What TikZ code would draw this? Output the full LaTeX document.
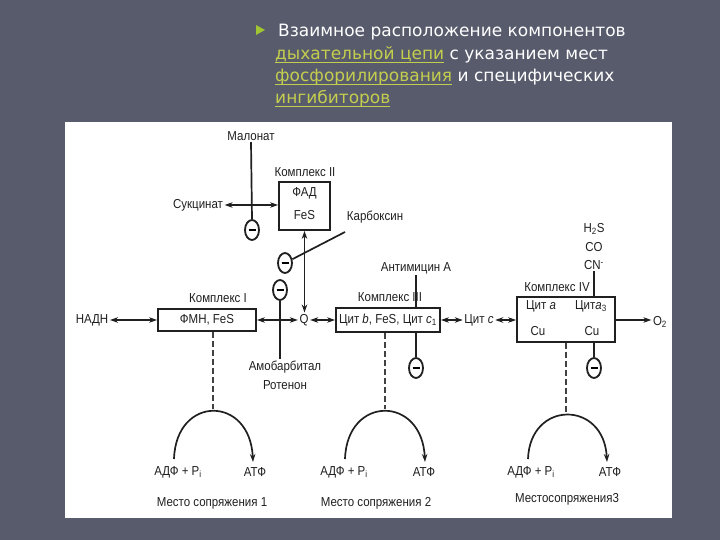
\documentclass[tikz,border=0pt]{standalone}
\usepackage{fontspec}
\setmainfont{Liberation Sans}
\newfontfamily\titlefont{DejaVu Sans}
\newfontfamily\diafont[FakeStretch=0.885]{Liberation Sans}
\usetikzlibrary{arrows.meta,shapes.geometric}
\definecolor{slidebg}{RGB}{88,91,108}
\definecolor{ulink}{RGB}{196,206,78}
\definecolor{tri}{RGB}{160,196,50}
\definecolor{ink}{RGB}{32,32,32}
\newcommand{\myul}[1]{\setbox0\hbox{#1}\rlap{\rule[-3pt]{\wd0}{1pt}}\box0}
\tikzset{
  lbl/.style={font=\diafont\fontsize{13}{14}\selectfont, text=ink, inner sep=1.5pt},
  cbox/.style={draw=ink, line width=1.8pt, fill=white, inner sep=0pt},
  con/.style={draw=ink, line width=1.7pt},
  dbl/.style={con, {Stealth[length=8pt,width=5.5pt]}-{Stealth[length=8pt,width=5.5pt]}},
  sgl/.style={con, -{Stealth[length=8pt,width=5.5pt]}},
  inh/.style={ellipse, draw=ink, line width=1.8pt, fill=white, minimum width=14pt, minimum height=20pt, inner sep=0pt},
  dsh/.style={draw=ink!85, line width=1.6pt, dash pattern=on 6pt off 3pt},
  ttl/.style={font=\titlefont\fontsize{17}{18}\selectfont, text=white, anchor=base west, inner sep=0pt}
}
\begin{document}
\begin{tikzpicture}[x=1pt,y=-1pt]
\fill[slidebg] (0,0) rectangle (720,540);
\useasboundingbox (0,0) rectangle (720,540);
\fill[white] (65,122) rectangle (672,518);
% title
\fill[tri] (256,25) -- (265,30) -- (256,35) -- cycle;
\node[ttl] (t1) at (278,37) {Взаимное расположение компонентов};
\node[ttl] (t2) at (275,60) {\textcolor{ulink}{\myul{дыхательной цепи}} с указанием мест};
\node[ttl] (t3) at (275,82) {\textcolor{ulink}{\myul{фосфорилирования}} и специфических};
\node[ttl] (t4) at (275,104) {\textcolor{ulink}{\myul{ингибиторов}}};
% Complex I
\node[lbl] (nadh) at (92,320) {НАДН};
\node[cbox, lbl, draw=ink, minimum width=98pt, minimum height=22pt] (c1) at (207,320) {ФМН, FeS};
\node[lbl] (c1l) at (218,298) {Комплекс I};
\node[lbl] (q) at (304,320) {Q};
% Complex II
\node[cbox, minimum width=51pt, minimum height=48pt] (c2) at (304.5,206) {};
\node[lbl] (fad) at (304.5,193) {ФАД};
\node[lbl] (fes2) at (304.5,215) {FeS};
\node[lbl] (c2l) at (305,172) {Комплекс II};
\node[lbl] (succ) at (198,205) {Сукцинат};
\node[lbl] (malon) at (251,136) {Малонат};
\node[inh] (i1) at (252,230) {\rule{7pt}{1.8pt}};
\node[lbl] (carb) at (375,217) {Карбоксин};
\coordinate (cb) at (345,232);
\node[inh] (i2) at (285,263) {\rule{7pt}{1.8pt}};
\node[inh] (i3) at (280,290) {\rule{7pt}{1.8pt}};
\node[lbl] (amo) at (285,367) {Амобарбитал};
\node[lbl] (rot) at (285,385) {Ротенон};
% Complex III
\node[cbox, lbl, draw=ink, minimum width=104pt, minimum height=24pt] (c3) at (388,320) {Цит \textit{b}, FeS,\ Цит \textit{c}\textsubscript{1}};
\node[lbl] (c3l) at (390,297) {Комплекс III};
\node[lbl] (anti) at (416,268) {Антимицин А};
\node[inh] (i4) at (416,368) {\rule{7pt}{1.8pt}};
\node[lbl] (cytc) at (479,320) {Цит \textit{c}};
% Complex IV
\node[cbox, minimum width=98pt, minimum height=45pt] (c4) at (566,319.5) {};
\node[lbl] (cya) at (541,306) {Цит \textit{a}};
\node[lbl] (cya3) at (591,306) {Цит\textit{a}\textsubscript{3}};
\node[lbl] (cu1) at (538,331) {Cu};
\node[lbl] (cu2) at (592,331) {Cu};
\node[lbl] (c4l) at (557,287) {Комплекс IV};
\node[lbl] (h2s) at (594,229) {H\textsubscript{2}S};
\node[lbl] (co) at (594,247) {CO};
\node[lbl] (cn) at (594,265) {CN\textsuperscript{-}};
\node[inh] (i5) at (594,368) {\rule{7pt}{1.8pt}};
\node[lbl] (o2) at (660,322) {O\textsubscript{2}};
% connectors
\draw[dbl] (nadh) -- (c1);
\draw[dbl] (c1) -- (q);
\draw[dbl] (q) -- (c3);
\draw[dbl] (c3) -- (cytc);
\draw[dbl] (cytc) -- (c4.west |- cytc);
\draw[sgl] (c4.east |- cytc) -- (o2.west |- cytc);
\draw[dbl] (succ) -- (c2.west |- succ);
\draw[con] (malon.south) -- (i1.north);
\draw[dbl] (c2.south) -- (c2.south |- q.north);
\draw[con] (cb) -- (i2);
\draw[con] (i3.south) -- (amo.north -| i3);
\draw[con] (anti.south) -- (c3.north -| anti);
\draw[con] (c3.south -| i4) -- (i4.north);
\draw[con] (cn.south) -- (c4.north -| cn);
\draw[con] (c4.south -| i5) -- (i5.north);
% coupling sites
\coordinate (a1) at (213,409);
\coordinate (a2) at (385,409);
\coordinate (a3) at (566,413);
\draw[dsh] (c1.south -| a1) -- (a1);
\draw[dsh] (c3.south -| a2) -- (a2);
\draw[dsh] (c4.south -| a3) -- (a3);
\node[lbl] (adp1) at (178,472) {АДФ + P\textsubscript{i}};
\node[lbl] (atp1) at (255,472) {АТФ};
\node[lbl] (ms1) at (212,503) {Место сопряжения 1};
\node[lbl] (adp2) at (344,472) {АДФ + P\textsubscript{i}};
\node[lbl] (atp2) at (424,472) {АТФ};
\node[lbl] (ms2) at (376,503) {Место сопряжения 2};
\node[lbl] (adp3) at (531,472) {АДФ + P\textsubscript{i}};
\node[lbl] (atp3) at (610,472) {АТФ};
\node[lbl] (ms3) at (567,499) {Местосопряжения3};
\draw[sgl] (174,459) .. controls (176,395) and (250,395) .. (253,462);
\draw[sgl] (345,459) .. controls (347,395) and (422,395) .. (425,462);
\draw[sgl] (528,459) .. controls (530,400) and (604,400) .. (607,462);
\end{tikzpicture}
\end{document}
